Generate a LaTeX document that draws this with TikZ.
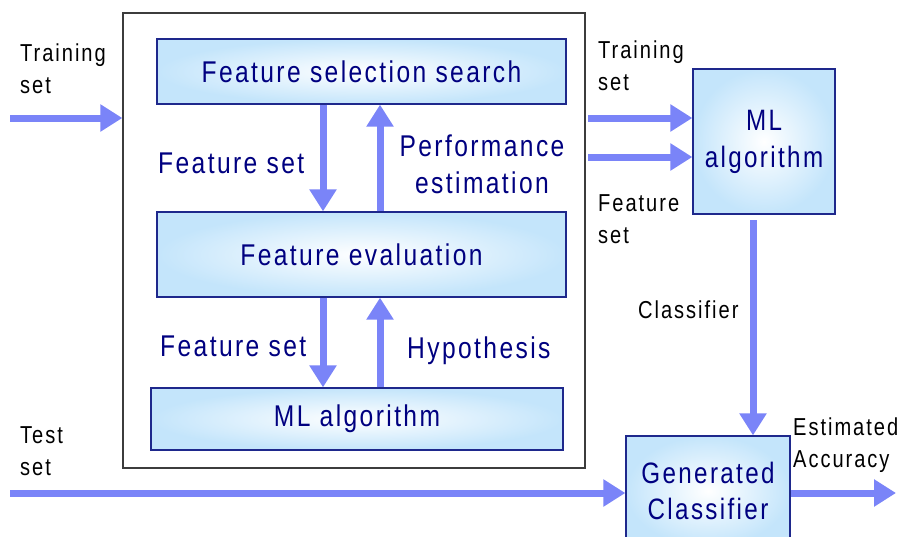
\documentclass[tikz,border=0pt]{standalone}
\usepackage{fontspec}
\setmainfont{Liberation Sans}[FakeStretch=0.82,LetterSpace=8]
\usetikzlibrary{arrows.meta}
\definecolor{navytxt}{RGB}{0,0,128}
\definecolor{arrowblue}{RGB}{122,132,248}
\definecolor{boxblue}{RGB}{196,229,251}
\definecolor{boxedge}{RGB}{30,40,140}
\definecolor{framegray}{RGB}{60,60,60}
\tikzset{
  procbox/.style={draw=boxedge, line width=1.3pt, inner color=white, outer color=boxblue,
    text=navytxt, font=\fontsize{30}{38}\selectfont, align=center, inner sep=0pt},
  flow/.style={draw=arrowblue, line width=7pt, -{Triangle[length=22pt,width=26pt]}, shorten >=0pt},
  outlab/.style={font=\fontsize{24.5}{32}\selectfont, text=black, align=left, inner sep=0pt},
  inlab/.style={font=\fontsize{30}{37}\selectfont, text=navytxt, align=center, inner sep=0pt},
}
\begin{document}
\begin{tikzpicture}[x=1pt,y=-1pt]
\useasboundingbox (0,0) rectangle (904,536);
\fill[white] (0,0) rectangle (904,536);
% outer frame
\node[draw=framegray, line width=1.3pt, minimum width=462pt, minimum height=455pt, inner sep=0pt] (frame) at (354,240.5) {};
% boxes
\node[procbox, minimum width=409pt, minimum height=65pt] (fss) at (361.5,71.5) {Feature selection search};
\node[procbox, minimum width=409pt, minimum height=85pt] (fe) at (361.5,254.5) {Feature evaluation};
\node[procbox, minimum width=412pt, minimum height=62pt] (mli) at (357,419) {ML algorithm};
\node[procbox, minimum width=142pt, minimum height=145pt, font=\fontsize{29.5}{37}\selectfont] (mlr) at (764,141.5) {ML\\algorithm};
\node[procbox, minimum width=164pt, minimum height=110pt, font=\fontsize{29.5}{36}\selectfont] (gc) at (708,491) {Generated\\Classifier};
% connector end points
\coordinate (tin) at (10,118);
\coordinate (tout) at (588,118);
\coordinate (fout) at (588,157);
\coordinate (testin) at (10,493);
\coordinate (accout) at (896,493);
\coordinate (clsstart) at (753,220);
% arrows
\draw[flow] (tin) -- (tin -| frame.west);
\draw[flow] (fss.south -| 323,0) -- (fe.north -| 323,0);
\draw[flow] (fe.north -| 380,0) -- (fss.south -| 380,0);
\draw[flow] (fe.south -| 323,0) -- (mli.north -| 323,0);
\draw[flow] (mli.north -| 380,0) -- (fe.south -| 380,0);
\draw[flow] (tout) -- (tout -| mlr.west);
\draw[flow] (fout) -- (fout -| mlr.west);
\draw[flow] (clsstart) -- (clsstart |- gc.north);
\draw[flow] (testin) -- (testin -| gc.west);
\draw[flow] (gc.east |- accout) -- (accout);
% labels
\node[outlab, anchor=north west] (l1) at (20,44) {Training\\set};
\node[inlab, anchor=west] (l2) at (158,163) {Feature set};
\node[inlab] (l3) at (482,164) {Performance\\estimation};
\node[inlab, anchor=west] (l4) at (160,346) {Feature set};
\node[inlab, anchor=west] (l5) at (407,351) {Hypothesis};
\node[outlab, anchor=north west] (l6) at (598,41) {Training\\set};
\node[outlab, anchor=north west] (l7) at (598,194) {Feature\\set};
\node[outlab, anchor=west] (l8) at (638,310) {Classifier};
\node[outlab, anchor=north west] (l9) at (20,426) {Test\\set};
\node[outlab, anchor=north west] (l10) at (793,418) {Estimated\\Accuracy};
\end{tikzpicture}
\end{document}
